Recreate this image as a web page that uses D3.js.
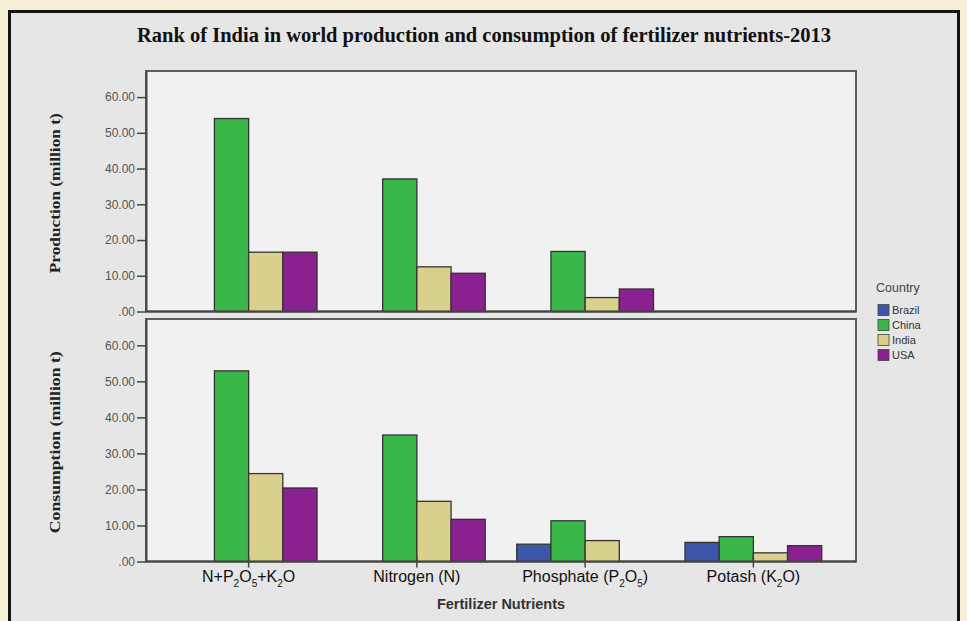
<!DOCTYPE html>
<html>
<head>
<meta charset="utf-8">
<script src="https://cdn.jsdelivr.net/npm/d3@7"></script>
<style>
  body { margin: 0; background: #f7efd6; }
  text { font-family: "Liberation Sans", Arial, sans-serif; }
</style>
</head>
<body>
<div id="chart"></div>
<script>
// data (million t, 2013)
var countries = ["Brazil", "China", "India", "USA"];
var nutrients = ["N+P_2O_5+K_2O", "Nitrogen (N)", "Phosphate (P_2O_5)", "Potash (K_2O)"];
var yTicks = [0, 10, 20, 30, 40, 50, 60];

var productionBrazil = [0, 0, 0, 0];
var productionChina = [54.0, 37.1, 16.8, 0];
var productionIndia = [16.6, 12.5, 3.9, 0];
var productionUSA = [16.6, 10.7, 6.3, 0];

var consumptionBrazil = [0, 0, 4.8, 5.3];
var consumptionChina = [52.9, 35.1, 11.3, 6.9];
var consumptionIndia = [24.4, 16.7, 5.8, 2.4];
var consumptionUSA = [20.4, 11.7, 0, 4.4];

var colors = ["#3d56a9", "#3bb74a", "#d9d08e", "#8b2190"];

var width = 967, height = 621;

var svg = d3.select("#chart")
  .append("svg")
    .attr("width", width)
    .attr("height", height);

// cream page and framed grey chart area
svg.append("rect")
  .attr("width", width).attr("height", height)
  .attr("fill", "#f7efd6");
svg.append("rect")
  .attr("x", 9.5).attr("y", 11.5)
  .attr("width", 949).attr("height", 640)
  .attr("fill", "#e6e6e6")
  .attr("stroke", "#141414")
  .attr("stroke-width", 3);

svg.append("text")
  .attr("x", 484).attr("y", 42)
  .attr("text-anchor", "middle")
  .style("font-family", "'Liberation Serif', 'Times New Roman', serif")
  .style("font-weight", "bold")
  .style("font-size", "20.5px")
  .attr("fill", "#111")
  .text("Rank of India in world production and consumption of fertilizer nutrients-2013");

var plotLeft = 146, plotRight = 856;

var x0 = d3.scaleBand()
  .domain(nutrients)
  .range([plotLeft, plotRight])
  .paddingInner(0)
  .paddingOuter(0.11);

var groupW = x0.bandwidth() * 0.813;
var x1 = d3.scaleBand()
  .domain(countries)
  .range([-groupW / 2, groupW / 2]);

var panels = [
  { title: "Production (million t)", series: [productionBrazil, productionChina, productionIndia, productionUSA], top: 71, bottom: 311.5, titleLen: 160, xAxis: false },
  { title: "Consumption (million t)", series: [consumptionBrazil, consumptionChina, consumptionIndia, consumptionUSA], top: 319, bottom: 561.5, titleLen: 182, xAxis: true }
];

function fmt(v) {
  return v === 0 ? ".00" : d3.format(".2f")(v);
}

// writes "P_2O_5" style names with subscripts
function subText(sel, label) {
  var parts = label.split(/(_\d)/).filter(function(p) { return p !== ""; });
  var shift = 0;
  parts.forEach(function(p) {
    if (p[0] === "_") {
      sel.append("tspan").attr("dy", 5 - shift).style("font-size", "10px").text(p.slice(1));
      shift = 5;
    } else {
      sel.append("tspan").attr("dy", -shift).text(p);
      shift = 0;
    }
  });
}

panels.forEach(function(p) {
  var y = d3.scaleLinear().domain([0, 67.3]).range([p.bottom, p.top]);
  var g = svg.append("g");

  g.append("rect")
    .attr("x", plotLeft).attr("y", p.top)
    .attr("width", plotRight - plotLeft).attr("height", p.bottom - p.top)
    .attr("fill", "#f1f1f1")
    .attr("stroke", "#5c5c5c")
    .attr("stroke-width", 2);

  // bars
  var rows = [];
  countries.forEach(function(c, ci) {
    nutrients.forEach(function(n, ni) {
      rows.push({ country: c, nutrient: n, value: p.series[ci][ni], color: colors[ci] });
    });
  });

  g.append("g")
    .selectAll("rect")
    .data(rows.filter(function(d) { return d.value > 0; }))
    .join("rect")
      .attr("x", function(d) { return x0(d.nutrient) + x0.bandwidth() / 2 + x1(d.country); })
      .attr("y", function(d) { return y(d.value); })
      .attr("width", x1.bandwidth())
      .attr("height", function(d) { return y(0) - y(d.value); })
      .attr("fill", function(d) { return d.color; })
      .attr("stroke", "#333")
      .attr("stroke-width", 1.3);

  // y axis
  var ya = g.append("g")
    .attr("transform", "translate(" + plotLeft + ",0)")
    .call(d3.axisLeft(y).tickValues(yTicks).tickFormat(fmt).tickSizeInner(9).tickSizeOuter(0).tickPadding(2));
  ya.select(".domain").attr("stroke", "#444").attr("stroke-width", 2);
  ya.selectAll(".tick line").attr("stroke", "#444").attr("stroke-width", 1.5);
  ya.selectAll(".tick text")
    .attr("fill", "#555")
    .style("font-family", "'Liberation Sans', Arial, sans-serif")
    .style("font-size", "12px");

  // bottom line
  g.append("line")
    .attr("x1", plotLeft).attr("x2", plotRight)
    .attr("y1", p.bottom).attr("y2", p.bottom)
    .attr("stroke", "#444").attr("stroke-width", 2);

  g.append("text")
    .attr("transform", "translate(55," + ((p.top + p.bottom) / 2 + 2) + ") rotate(-90)")
    .attr("text-anchor", "middle")
    .attr("dy", "0.35em")
    .attr("textLength", p.titleLen)
    .attr("lengthAdjust", "spacingAndGlyphs")
    .style("font-family", "'Liberation Serif', 'Times New Roman', serif")
    .style("font-weight", "bold")
    .style("font-size", "15px")
    .attr("fill", "#222")
    .text(p.title);

  if (p.xAxis) {
    var xa = g.append("g")
      .attr("transform", "translate(0," + p.bottom + ")")
      .call(d3.axisBottom(x0).tickSize(6).tickFormat(""));
    xa.select(".domain").remove();
    xa.selectAll(".tick line").attr("stroke", "#444").attr("stroke-width", 1.5).attr("y1", -4);
    xa.selectAll(".tick").each(function(d) {
      var t = d3.select(this).append("text")
        .attr("y", 20)
        .attr("text-anchor", "middle")
        .attr("fill", "#111")
        .style("font-size", "16px");
      subText(t, d);
    });

    svg.append("text")
      .attr("x", (plotLeft + plotRight) / 2).attr("y", 609)
      .attr("text-anchor", "middle")
      .style("font-weight", "bold")
      .style("font-size", "14.5px")
      .attr("fill", "#333")
      .text("Fertilizer Nutrients");
  }
});

// legend
var legend = svg.append("g").attr("transform", "translate(876,0)");
legend.append("text")
  .attr("x", 0).attr("y", 292)
  .attr("fill", "#444")
  .style("font-size", "12.5px")
  .text("Country");
var items = legend.selectAll("g.item")
  .data(countries)
  .join("g")
    .attr("class", "item")
    .attr("transform", function(d, i) { return "translate(2," + (310 + i * 15) + ")"; });
items.append("rect")
  .attr("x", 0).attr("y", -5.5)
  .attr("width", 11).attr("height", 11)
  .attr("fill", function(d, i) { return colors[i]; })
  .attr("stroke", "#444").attr("stroke-width", 0.8);
items.append("text")
  .attr("x", 14).attr("y", 4)
  .attr("fill", "#333")
  .style("font-size", "11px")
  .text(function(d) { return d; });
</script>
</body>
</html>
